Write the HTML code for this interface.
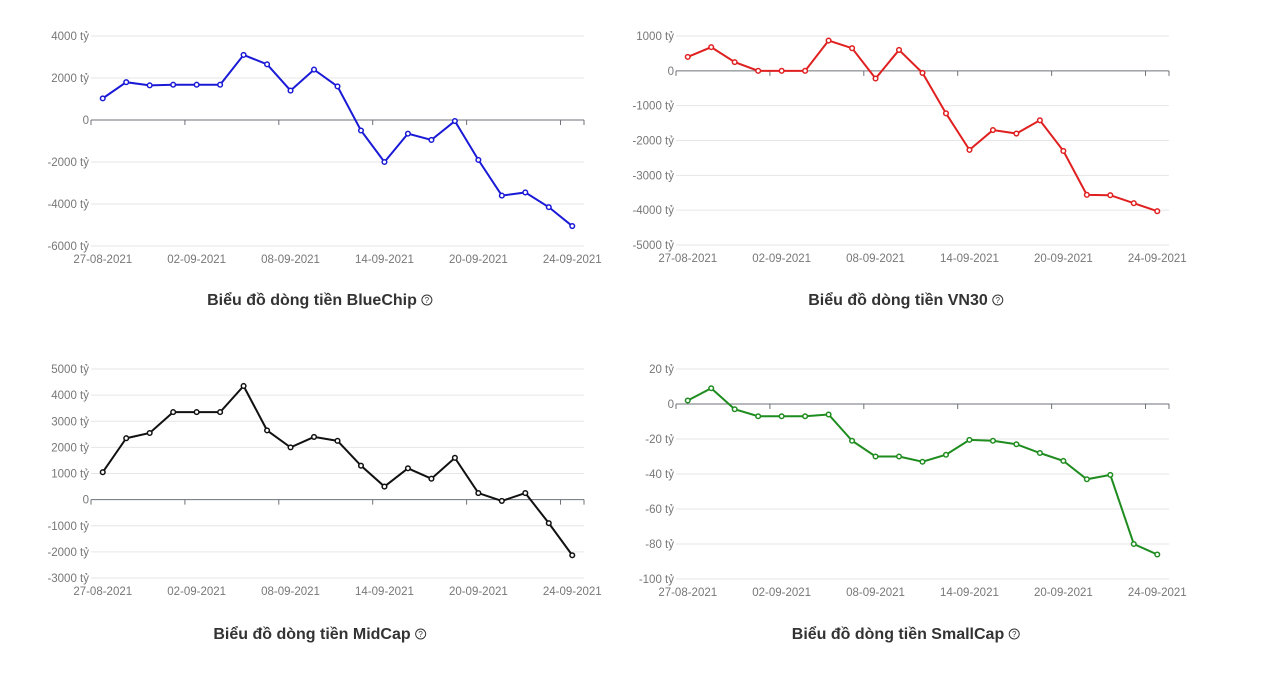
<!DOCTYPE html>
<html><head><meta charset="utf-8"><style>
body{margin:0;background:#fff;width:1280px;height:676px;overflow:hidden}
svg{display:block}
text{font-family:"Liberation Sans",sans-serif}
</style></head><body>
<svg id="s" width="1280" height="676"></svg>
<script>
const dates = ["27-08-2021","","","","02-09-2021","","","","08-09-2021","","","","14-09-2021","","","","20-09-2021","","","","24-09-2021"];
const blueValues = [1030,1800,1650,1680,1680,1680,3100,2650,1400,2400,1600,-500,-2000,-650,-950,-50,-1900,-3600,-3450,-4150,-5050];
const vn30Values = [400,680,250,0,0,0,870,650,-220,600,-60,-1220,-2270,-1700,-1800,-1420,-2300,-3560,-3570,-3800,-4030];
const midValues = [1050,2350,2550,3350,3350,3350,4350,2650,2000,2400,2250,1300,500,1200,800,1600,250,-50,250,-900,-2130];
const smallValues = [2,9,-3,-7,-7,-7,-6,-21,-30,-30,-33,-29,-20.5,-21,-23,-28,-32.5,-43,-40.5,-80,-86];
const blueTicks = [4000,2000,0,-2000,-4000,-6000];
const vn30Ticks = [1000,0,-1000,-2000,-3000,-4000,-5000];
const midTicks = [5000,4000,3000,2000,1000,0,-1000,-2000,-3000];
const smallTicks = [20,0,-20,-40,-60,-80,-100];
const NS="http://www.w3.org/2000/svg";
const svg=document.getElementById('s');
function el(tag,attrs,parent){const e=document.createElementNS(NS,tag);for(const k in attrs)e.setAttribute(k,attrs[k]);(parent||svg).appendChild(e);return e;}
function chart(name,values,ticks,color,x0,x1,yTop,yBot,title,titleX,titleY){
  const g=el('g',{});
  
  
  const vmax=ticks[0],vmin=ticks[ticks.length-1];
  const y=v=>yTop+(vmax-v)/(vmax-vmin)*(yBot-yTop);
  const n=values.length,bw=(x1-x0)/n;
  const x=i=>x0+bw*(i+0.5);
  ticks.forEach(t=>{
    if(t!==0){const l=el('line',{x1:x0,x2:x1,y1:y(t),y2:y(t),stroke:'#e6e6e6','stroke-width':1},g);
      }
    const tx=el('text',{x:x0-2,y:y(t)+4,'text-anchor':'end','font-size':'11.5',fill:'#777'},g);
    tx.textContent=t===0?'0':t+' tỷ';
    
  });
  const ax=el('line',{x1:x0,x2:x1,y1:y(0),y2:y(0),stroke:'#6e7079','stroke-width':1},g);
  
  for(let i=0;i<=n;i+=4){const xx=x0+bw*i;el('line',{x1:xx,x2:xx,y1:y(0),y2:y(0)+5,stroke:'#6e7079'},g);}
  el('line',{x1:x1,x2:x1,y1:y(0),y2:y(0)+5,stroke:'#6e7079'},g);
  dates.forEach((d,i)=>{if(!d)return;
    const tx=el('text',{x:x(i),y:yBot+17,'text-anchor':'middle','font-size':'11.5',fill:'#777'},g);
    tx.textContent=d;});
  const pl=el('polyline',{points:values.map((v,i)=>x(i)+','+y(v)).join(' '),fill:'none',stroke:color,'stroke-width':2},g);
  
  values.forEach((v,i)=>{const c=el('circle',{cx:x(i),cy:y(v),r:2.3,fill:'#fff',stroke:color,'stroke-width':1.5},g);
    });
  const tt=el('text',{x:titleX,y:titleY,'text-anchor':'middle','font-size':'16','font-weight':'bold',fill:'#333'},g);
  tt.textContent=title;
  const w=tt.getComputedTextLength();
  const ic=el('g',{},g);
  
  el('circle',{cx:titleX+w/2+10,cy:titleY-5,r:5,fill:'none',stroke:'#333','stroke-width':1},ic);
  const q=el('text',{x:titleX+w/2+10,y:titleY-2,'text-anchor':'middle','font-size':'8',fill:'#333'},ic);q.textContent='?';
}
chart('bluechip',blueValues,blueTicks,'#1a1ad6',91,584,36,246,'Biểu đồ dòng tiền BlueChip',312,305);
chart('vn30',vn30Values,vn30Ticks,'#e02020',676,1169,36,245,'Biểu đồ dòng tiền VN30',898,305);
chart('midcap',midValues,midTicks,'#111111',91,584,369,578,'Biểu đồ dòng tiền MidCap',312,639);
chart('smallcap',smallValues,smallTicks,'#1e8c1e',676,1169,369,579,'Biểu đồ dòng tiền SmallCap',898,639);
</script>
</body></html>
